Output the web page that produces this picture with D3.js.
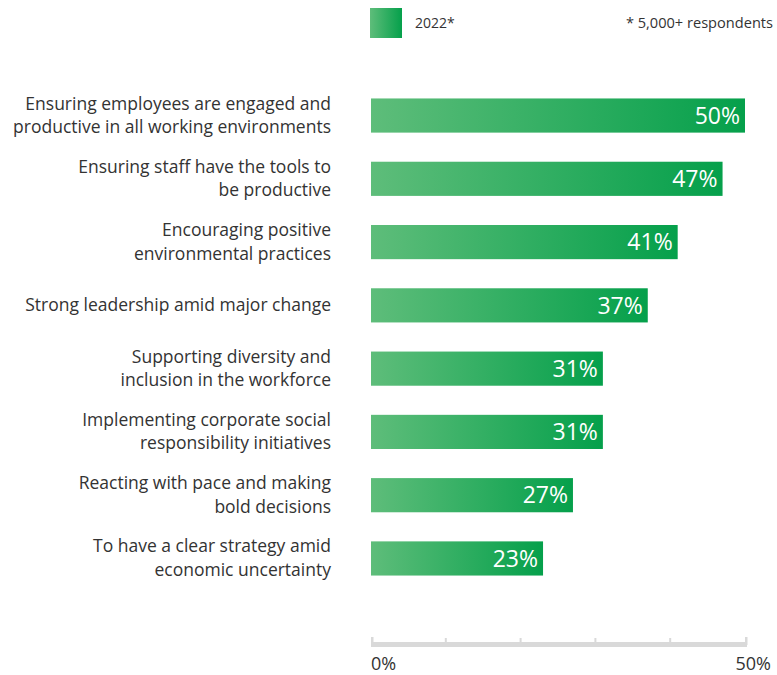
<!DOCTYPE html>
<html>
<head>
<meta charset="utf-8">
<script src="https://cdn.jsdelivr.net/npm/d3@7"></script>
<style>
  html, body { margin: 0; padding: 0; background: #fff; }
  svg { display: block; font-family: "Open Sans", sans-serif; }
</style>
</head>
<body>
<svg id="chart" width="777" height="675"></svg>
<script>
// Survey priorities, share of respondents (%)
const categories = [
  ["Ensuring employees are engaged and", "productive in all working environments"],
  ["Ensuring staff have the tools to", "be productive"],
  ["Encouraging positive", "environmental practices"],
  ["Strong leadership amid major change"],
  ["Supporting diversity and", "inclusion in the workforce"],
  ["Implementing corporate social", "responsibility initiatives"],
  ["Reacting with pace and making", "bold decisions"],
  ["To have a clear strategy amid", "economic uncertainty"]
];
const values2022 = [50, 47, 41, 37, 31, 31, 27, 23];
const seriesName = "2022*";
const footnote = "* 5,000+ respondents";
const axisTicks = [0, 10, 20, 30, 40, 50];
const axisLabels = ["0%", "50%"];

const svg = d3.select("#chart");

const x = d3.scaleLinear().domain([0, 50]).range([371, 745]);
const y = d3.scaleBand()
  .domain(d3.range(categories.length))
  .range([82, 592])
  .paddingInner(0.46)
  .paddingOuter(0.26);

// Horizontal green gradient, stretched over each bar
const defs = svg.append("defs");
const grad = defs.append("linearGradient")
  .attr("id", "barGrad")
  .attr("x1", "0").attr("y1", "0").attr("x2", "1").attr("y2", "0");
grad.append("stop").attr("offset", "0%").attr("stop-color", "#5ebd7a");
grad.append("stop").attr("offset", "100%").attr("stop-color", "#05a04b");

// Legend
svg.append("rect")
  .attr("x", 370).attr("y", 8).attr("width", 32).attr("height", 30)
  .attr("fill", "url(#barGrad)");
svg.append("text")
  .attr("x", 415).attr("y", 28)
  .attr("font-size", 14).attr("fill", "#333")
  .text(seriesName);
svg.append("text")
  .attr("x", 773).attr("y", 28)
  .attr("text-anchor", "end")
  .attr("font-size", 14.6).attr("fill", "#333")
  .text(footnote);

// Bars
const rows = svg.append("g").selectAll("g")
  .data(values2022)
  .join("g");

rows.append("rect")
  .attr("x", x(0))
  .attr("y", (d, i) => y(i))
  .attr("width", d => x(d) - x(0))
  .attr("height", y.bandwidth())
  .attr("fill", "url(#barGrad)");

rows.append("text")
  .attr("x", d => x(d) - 5)
  .attr("y", (d, i) => y(i) + y.bandwidth() / 2)
  .attr("dy", "0.36em")
  .attr("text-anchor", "end")
  .attr("font-size", 23)
  .attr("fill", "#fff")
  .text(d => d + "%");

// Category labels
const lineH = 23.5;
rows.append("text")
  .attr("text-anchor", "end")
  .attr("font-size", 17.5)
  .attr("fill", "#333")
  .each(function(d, i) {
    const lines = categories[i];
    const cy = y(i) + y.bandwidth() / 2;
    const top = cy - (lines.length - 1) * lineH / 2;
    d3.select(this).selectAll("tspan")
      .data(lines)
      .join("tspan")
      .attr("x", 331)
      .attr("y", (l, j) => top + j * lineH)
      .attr("dy", "0.33em")
      .text(l => l);
  });

// Axis
const axisG = svg.append("g");
axisG.append("rect")
  .attr("x", x(0)).attr("y", 642)
  .attr("width", x(50) - x(0) + 2).attr("height", 5)
  .attr("fill", "#d9d9d9");
axisG.selectAll("rect.tick")
  .data(axisTicks)
  .join("rect")
  .attr("class", "tick")
  .attr("x", d => x(d) - (d === 0 ? 0 : 1) + (d === 50 ? 1 : 0))
  .attr("y", d => (d === 0 || d === 50) ? 637 : 638)
  .attr("width", d => (d === 0 || d === 50) ? 2.5 : 2)
  .attr("height", 8)
  .attr("fill", "#d9d9d9");

axisG.append("text")
  .attr("x", x(0)).attr("y", 670)
  .attr("font-size", 18).attr("fill", "#333")
  .text(axisLabels[0]);
axisG.append("text")
  .attr("x", x(50) + 26).attr("y", 670)
  .attr("text-anchor", "end")
  .attr("font-size", 18).attr("fill", "#333")
  .text(axisLabels[1]);
</script>
</body>
</html>
